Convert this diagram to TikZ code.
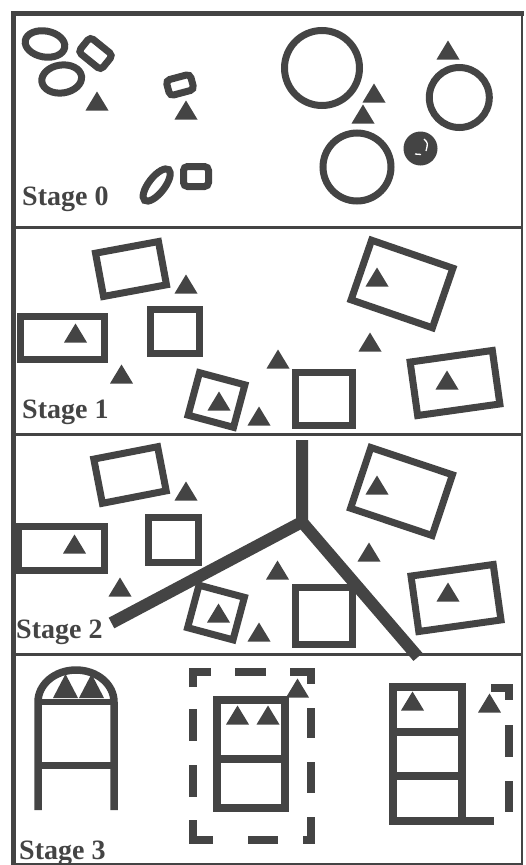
\documentclass[tikz,border=0pt]{standalone}
\usepackage{fontspec}
\setmainfont{Liberation Serif}
\usetikzlibrary{shapes.geometric}
\definecolor{ink}{RGB}{68,68,68}
\newcommand\mytri[2]{\fill[ink] (#1,#2) ++(-11.5,9.5) -- ++(23,0) -- ++(-11.5,-19) -- cycle;}
\begin{document}
\begin{tikzpicture}[x=1pt,y=-1pt,
  shp/.style={draw=ink, line width=7pt, inner sep=0pt, outer sep=0pt},
  rbox/.style={shp, rectangle},
  rrbox/.style={shp, rectangle, rounded corners=4pt},
  ell/.style={shp, ellipse},
  circ/.style={shp, circle},
  frame/.style={ink, line width=#1},
  thick3/.style={ink, line width=8pt},
  bar/.style={ink, line width=12pt},
  lbl/.style={anchor=base west, inner sep=0pt, text=ink, font=\bfseries\fontsize{28}{28}\selectfont}
]
\useasboundingbox (0,0) rectangle (526,865);
\fill[white] (0,0) rectangle (526,865);

% ---------- frame ----------
\draw[frame=5pt] (11,13.5) -- (524,13.5);
\draw[frame=5pt] (13,11) -- (13,865);
\draw[frame=2.5pt] (522,13) -- (522,865);
\draw[frame=2.5pt] (13,864) -- (523,864);
\draw[frame=3pt] (13,227.5) -- (522,227.5);
\draw[frame=3pt] (13,434) -- (522,434);
\draw[frame=3pt] (13,654) -- (522,654);

% ---------- Stage 0 ----------
\node[ell, minimum width=40pt, minimum height=26pt, rotate=-10] (e1) at (45,44) {};
\node[ell, minimum width=40pt, minimum height=28pt, rotate=8] (e2) at (61.7,79) {};
\node[rrbox, minimum width=29pt, minimum height=19pt, rotate=-39] (q1) at (95.5,53.5) {};
\mytri{97}{101}
\node[rrbox, minimum width=25pt, minimum height=16pt, rotate=15] (q2) at (180,85) {};
\mytri{186}{110}
\node[ell, minimum width=39pt, minimum height=16pt, rotate=52] (e3) at (156.7,185) {};
\node[rrbox, minimum width=25pt, minimum height=20pt] (q3) at (196,176.5) {};
\node[circ, minimum size=75pt] (c1) at (322,68) {};
\mytri{374}{93}
\mytri{363}{114}
\node[circ, minimum size=68pt] (c2) at (357,167) {};
\mytri{448}{50}
\node[circ, minimum size=60pt] (c3) at (459.3,97.5) {};
\node[circle, fill=ink, inner sep=0pt, minimum size=34pt] (dot) at (420.5,148.5) {};
\draw[white, line width=1.3pt] (424,139) .. controls (428,143) .. (426,151);
\draw[white, line width=1.3pt] (415,154) -- (421,154.5);
\node[lbl] (s0) at (22,205) {Stage 0};

% ---------- Stage 1 ----------
\node[rbox, minimum width=64pt, minimum height=44pt, rotate=10.5] (a1) at (131,269) {};
\mytri{186}{284}
\node[rbox, minimum width=84pt, minimum height=43pt] (a2) at (62.5,338) {};
\mytri{75.5}{333}
\node[rbox, minimum width=49pt, minimum height=44pt] (a3) at (175,331.5) {};
\mytri{121.5}{374}
\node[rbox, minimum width=47pt, minimum height=44pt, rotate=-15] (a4) at (216.5,400) {};
\mytri{219}{401}
\mytri{259}{416}
\mytri{278}{359}
\node[rbox, minimum width=57pt, minimum height=53pt] (a5) at (324,399) {};
\mytri{370}{342}
\node[rbox, minimum width=86pt, minimum height=63pt, rotate=-19] (a6) at (402,284) {};
\mytri{377}{277}
\node[rbox, minimum width=83pt, minimum height=54pt, rotate=8] (a7) at (455,383) {};
\mytri{447}{380}
\node[lbl] (s1) at (22,418) {Stage 1};

% ---------- Stage 2 ----------
\node[rbox, minimum width=65pt, minimum height=45pt, rotate=11] (b1) at (130,475) {};
\mytri{186}{491}
\node[rbox, minimum width=86pt, minimum height=44pt] (b2) at (61,548.5) {};
\mytri{74.5}{544}
\node[rbox, minimum width=50pt, minimum height=45pt] (b3) at (173.5,540) {};
\mytri{120}{587}
\node[rbox, minimum width=47pt, minimum height=44pt, rotate=-15] (b4) at (216,612.5) {};
\mytri{218.5}{613}
\mytri{259}{632}
\mytri{277.5}{570}
\node[rbox, minimum width=57pt, minimum height=57pt] (b5) at (324,616) {};
\mytri{369}{552}
\node[rbox, minimum width=86pt, minimum height=64pt, rotate=-18.5] (b6) at (401.5,491.5) {};
\mytri{377}{485}
\node[rbox, minimum width=83pt, minimum height=56pt, rotate=8] (b7) at (456,598) {};
\mytri{448}{592}
\coordinate (ytop) at (302,440);
\coordinate (yj) at (302,522);
\coordinate (yl) at (111.5,623);
\coordinate (yr) at (418,657);
\draw[bar] (ytop) -- (yj) -- (yl);
\draw[bar] (yj) -- (yr);
\fill[ink] (yj) circle (6);
\node[lbl] (s2) at (16,638) {Stage 2};

% ---------- Stage 3 ----------
% arch
\draw[ink, line width=7.5pt] (38,810) -- (38,702)
  .. controls (38,684.3) and (55,670) .. (76,670)
  .. controls (97,670) and (114,684.3) .. (114,702) -- (114,810);
\draw[ink, line width=6pt] (38,702) -- (114,702);
\draw[ink, line width=7pt] (38,765.5) -- (114,765.5);
\fill[ink] (53,698) -- (78,698) -- (65.5,674) -- cycle;
\fill[ink] (79,698) -- (104,698) -- (91.5,674) -- cycle;

% dashed enclosure
\draw[thick3] (193,687) -- (193,672) -- (211,672);
\draw[thick3] (235,672) -- (266,672);
\draw[thick3] (290,672) -- (311,672) -- (311,684);
\draw[thick3] (311,708) -- (311,738);
\draw[thick3] (311,762) -- (311,793);
\draw[thick3] (311,817) -- (311,840) -- (303,840);
\draw[thick3] (248,840) -- (278,840);
\draw[thick3] (213,840) -- (193,840) -- (193,820);
\draw[thick3] (193,709) -- (193,741);
\draw[thick3] (193,765) -- (193,797);
% middle cell
\draw[thick3] (217,700) rectangle (285,808);
\draw[thick3] (217,759) -- (285,759);
\mytri{237.5}{715}
\mytri{268}{715}
\mytri{297.5}{688}

% right cell stack
\draw[thick3] (462,821) -- (393,821) -- (393,687) -- (462,687) -- (462,821) -- (494,821);
\draw[thick3] (393,732) -- (462,732);
\draw[thick3] (393,776) -- (462,776);
\mytri{412.5}{701}
\mytri{489.5}{703}
\draw[thick3] (491,687.5) -- (509,687.5) -- (509,700);
\draw[thick3] (509,725) -- (509,757);
\draw[thick3] (509,781) -- (509,812);
\node[lbl] (s3) at (19,859) {Stage 3};
\end{tikzpicture}
\end{document}
